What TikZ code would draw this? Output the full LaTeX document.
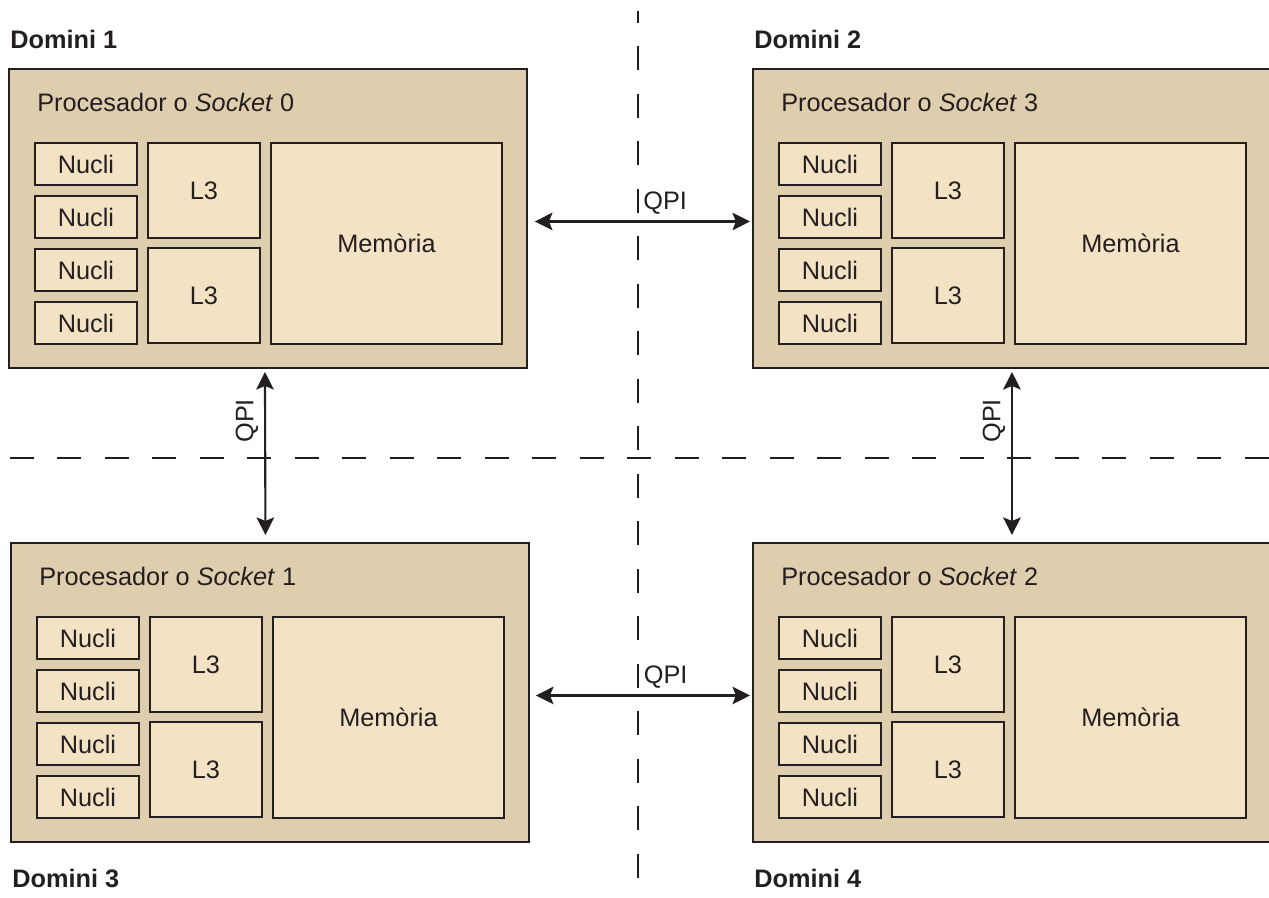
\documentclass[tikz,border=0pt]{standalone}
\usepackage{fontspec}
\setmainfont{Liberation Sans}
\usetikzlibrary{arrows.meta,calc}

\definecolor{marro}{RGB}{223,206,174}
\definecolor{crema}{RGB}{244,226,196}
\definecolor{tinta}{RGB}{35,31,32}

\tikzset{
  caixa/.style={draw=tinta, line width=1.1pt, fill=crema, outer sep=0pt, inner sep=0pt, align=center},
  sock/.style={caixa, fill=marro, minimum width=10.36cm, minimum height=5.98cm},
  nucli/.style={caixa, minimum width=2.04cm, minimum height=0.84cm},
  cau/.style={caixa, minimum width=2.24cm, minimum height=1.9cm},
  memo/.style={caixa, minimum width=4.62cm, minimum height=4.02cm},
  domini/.style={font=\fontsize{14.4}{17}\selectfont\bfseries, anchor=base west, inner sep=0pt},
  sep/.style={draw=tinta, line width=1.1pt, dash pattern=on 0.48cm off 0.47cm},
  qpi/.style={<->, draw=tinta, line width=1.2pt}
}

% un processador: nom, cantonada superior esquerra, numero
\newcommand{\procesador}[3]{%
  \node[sock, anchor=north west] (#1) at (#2) {};
  \node[anchor=base west, inner sep=0pt] (#1t) at ($(#1.north west)+(28,42)$) {Procesador o \textit{Socket} #3};
  \foreach \i/\dy in {1/74,2/127,3/180,4/233}
    \node[nucli, anchor=north west] (#1n\i) at ($(#1.north west)+(26,\dy)$) {Nucli};
  \node[cau, anchor=north west] (#1a) at ($(#1.north west)+(139,74)$) {L3};
  \node[cau, anchor=north west] (#1b) at ($(#1.north west)+(139,179)$) {L3};
  \node[memo, anchor=north west] (#1m) at ($(#1.north west)+(262,74)$) {Memòria};
}

\begin{document}
\begin{tikzpicture}[x=0.02cm, y=-0.02cm, color=tinta,
                    font=\fontsize{14.4}{17}\selectfont,
                    >={Stealth[length=10pt,width=10pt,inset=2pt]}]

  \clip (0,0) rectangle (1269,897);

  % separacio dels dominis
  \coordinate (h0) at (10,458);
  \coordinate (h1) at (1269,458);
  \coordinate (v0) at (638,11);
  \coordinate (v1) at (638,897);
  \draw[sep] (h0) -- (h1);
  \draw[sep, dash phase=0.24cm] (v0) -- (v1);

  \procesador{s0}{9,69}{0}
  \procesador{s3}{753,69}{3}
  \procesador{s1}{11,543}{1}
  \procesador{s2}{753,543}{2}

  \draw[qpi] ($(s0.east)+(8,3)$) -- node[anchor=south west, xshift=-0.12cm] {QPI} ($(s3.west)+(-3,3)$);
  \draw[qpi] ($(s1.east)+(7,3)$) -- node[anchor=south west, xshift=-0.12cm] {QPI} ($(s2.west)+(-3,3)$);
  \draw[qpi] ($(s0.south)+(-3,4)$) -- node[pos=0.3, rotate=90, anchor=south] {QPI} ($(s1.north)+(-4.5,-8)$);
  \draw[qpi] ($(s3.south)+(0,4)$) -- node[pos=0.3, rotate=90, anchor=south] {QPI} ($(s2.north)+(0,-8)$);

  \node[domini] (d1) at (10,48) {Domini 1};
  \node[domini] (d2) at (754,48) {Domini 2};
  \node[domini] (d3) at (12,887) {Domini 3};
  \node[domini] (d4) at (754,887) {Domini 4};

\end{tikzpicture}
\end{document}
